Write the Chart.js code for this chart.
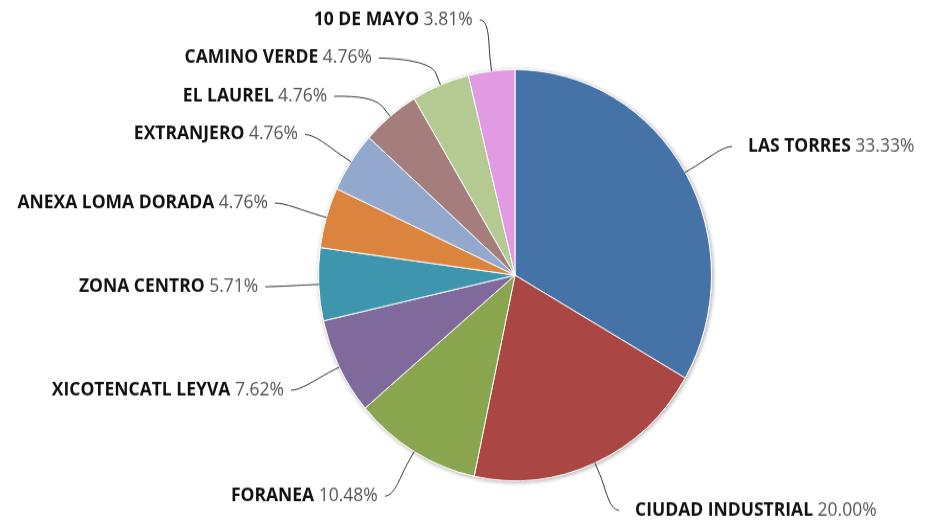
<!DOCTYPE html>
<html>
<head>
<meta charset="utf-8">
<script src="https://cdn.jsdelivr.net/npm/chart.js@4.4.1/dist/chart.umd.min.js"></script>
<style>
  html { overflow: hidden; }
  html, body { margin: 0; padding: 0; background: #fff; }
  body { height: 521px; }
  /* the reference is a slightly stretched screenshot, so stretch the canvas the same way */
  #wrap { width: 925px; height: 498px; transform: scaleY(1.0462); transform-origin: 0 0; }
</style>
</head>
<body>
<div id="wrap"><canvas id="pieChart" width="925" height="498"></canvas></div>
<script>
(function () {
    'use strict';

    // Data
    const CATEGORIES = [
        'LAS TORRES', 'CIUDAD INDUSTRIAL', 'FORANEA', 'XICOTENCATL LEYVA', 'ZONA CENTRO',
        'ANEXA LOMA DORADA', 'EXTRANJERO', 'EL LAUREL', 'CAMINO VERDE', '10 DE MAYO'
    ];
    const COUNTS = [35, 21, 11, 8, 6, 5, 5, 5, 5, 4];
    const COLORS = [
        '#4572a7', '#aa4643', '#89a54e', '#80699b', '#3d96ae',
        '#db843d', '#92a8cd', '#a47d7c', '#b5ca92', '#e29ae3'
    ];

    const TOTAL = COUNTS.reduce((s, v) => s + v, 0);
    const FONT_FAMILY = '"Open Sans", Lato, sans-serif';
    const FONT_SIZE = 17.5;

    // soft shadow under the pie, drawn before the slices
    const pieShadow = {
        id: 'pieShadow',
        beforeDatasetsDraw(chart) {
            const arc = chart.getDatasetMeta(0).data[0];
            if (!arc) return;
            const { x, y, outerRadius } = arc.getProps(['x', 'y', 'outerRadius'], true);
            const ctx = chart.ctx;
            ctx.save();
            ctx.shadowColor = 'rgba(0, 0, 0, 0.35)';
            ctx.shadowBlur = 4;
            ctx.shadowOffsetX = 1;
            ctx.shadowOffsetY = 1;
            ctx.fillStyle = '#fff';
            ctx.beginPath();
            ctx.arc(x, y, outerRadius + 0.5, 0, Math.PI * 2);
            ctx.fill();
            ctx.restore();
        }
    };

    /**
     * Outside labels with soft connectors, spread apart so they don't overlap.
     */
    const outsideLabels = {
        id: 'outsideLabels',
        afterDatasetsDraw(chart) {
            const ctx = chart.ctx;
            const meta = chart.getDatasetMeta(0);
            const labelRadius = 246;    // natural label distance from center
            const minGap = 36.5;        // vertical slot per label
            const topLimit = 19;
            const bottomLimit = 490;

            const items = meta.data.map((arc, i) => {
                const p = arc.getProps(['x', 'y', 'startAngle', 'endAngle', 'outerRadius'], true);
                const mid = (p.startAngle + p.endAngle) / 2;
                return {
                    index: i,
                    cx: p.x,
                    cy: p.y,
                    r: p.outerRadius,
                    mid: mid,
                    right: Math.cos(mid) >= 0,
                    y: p.y + labelRadius * Math.sin(mid)
                };
            });

            // spread labels on each side
            [true, false].forEach(side => {
                const list = items.filter(it => it.right === side).sort((a, b) => a.y - b.y);
                for (let i = 0; i < list.length; i++) {
                    let y = Math.max(list[i].y, topLimit);
                    if (i > 0) y = Math.max(y, list[i - 1].y + minGap);
                    list[i].y = y;
                }
                for (let i = list.length - 1; i >= 0; i--) {
                    let y = Math.min(list[i].y, bottomLimit);
                    if (i < list.length - 1) y = Math.min(y, list[i + 1].y - minGap);
                    list[i].y = y;
                }
            });

            ctx.save();
            items.forEach(it => {
                const dir = it.right ? 1 : -1;
                const dy = it.y - it.cy;
                const dx = Math.sqrt(Math.max(labelRadius * labelRadius - dy * dy, 0));
                const ax = it.cx + dir * dx;

                const cos = Math.cos(it.mid);
                const sin = Math.sin(it.mid);
                const edgeX = it.cx + it.r * cos;
                const edgeY = it.cy + it.r * sin;
                const crookX = it.cx + (it.r + 12) * cos;
                const crookY = it.cy + (it.r + 12) * sin;
                const ctrlX = it.cx + (it.r + 26) * cos;
                const ctrlY = it.cy + (it.r + 26) * sin;
                const startX = ax + dir * 4;

                // connector
                ctx.strokeStyle = '#333333';
                ctx.lineWidth = 1;
                ctx.beginPath();
                ctx.moveTo(startX, it.y);
                ctx.bezierCurveTo(startX - dir * 10, it.y, ctrlX, ctrlY, crookX, crookY);
                ctx.lineTo(edgeX, edgeY);
                ctx.stroke();

                // label: bold name + normal percentage
                const name = CATEGORIES[it.index];
                const pct = ' ' + (COUNTS[it.index] / TOTAL * 100).toFixed(2) + '%';
                ctx.textBaseline = 'middle';
                ctx.font = 'bold ' + FONT_SIZE + 'px ' + FONT_FAMILY;
                const nameW = ctx.measureText(name).width;
                ctx.font = FONT_SIZE + 'px ' + FONT_FAMILY;
                const pctW = ctx.measureText(pct).width;

                const textLeft = it.right ? ax + 20 : ax - 11 - nameW - pctW;
                ctx.textAlign = 'left';
                ctx.font = 'bold ' + FONT_SIZE + 'px ' + FONT_FAMILY;
                ctx.fillStyle = '#111111';
                ctx.fillText(name, textLeft, it.y);
                ctx.font = FONT_SIZE + 'px ' + FONT_FAMILY;
                ctx.fillStyle = '#555555';
                ctx.fillText(pct, textLeft + nameW, it.y);
            });
            ctx.restore();
        }
    };

    function init() {
        const canvas = document.getElementById('pieChart');
        const ctx = canvas.getContext('2d');

        new Chart(ctx, {
            type: 'pie',
            data: {
                labels: CATEGORIES,
                datasets: [{
                    data: COUNTS,
                    backgroundColor: COLORS,
                    borderColor: '#ffffff',
                    borderWidth: 1
                }]
            },
            options: {
                responsive: false,
                animation: false,
                devicePixelRatio: 1,
                layout: {
                    padding: { left: 318, right: 213, top: 66, bottom: 38 }
                },
                plugins: {
                    legend: { display: false },
                    tooltip: { enabled: false }
                }
            },
            plugins: [pieShadow, outsideLabels]
        });
    }

    init();
})();
</script>
</body>
</html>
